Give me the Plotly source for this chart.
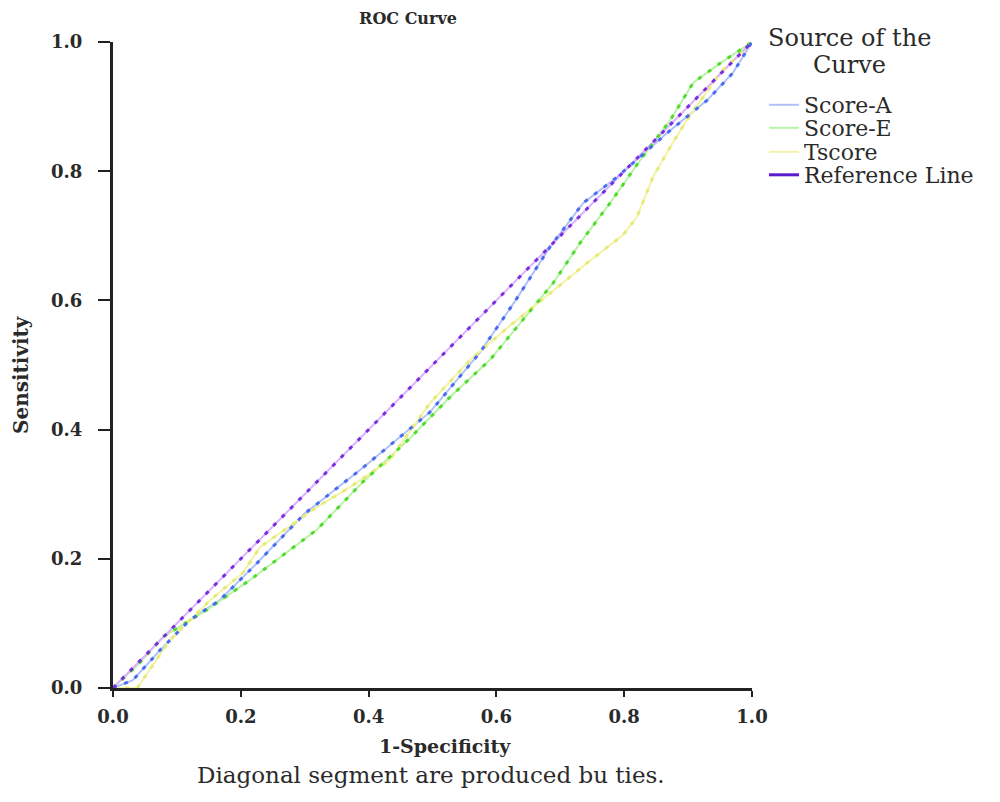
import plotly.graph_objects as go

# 1-Specificity (x) and Sensitivity (y) for each source
score_a_x = [0, 0.031, 0.074, 0.12, 0.167, 0.225, 0.30, 0.391, 0.496, 0.574, 0.63, 0.684, 0.736, 0.789, 0.867, 0.93, 0.97, 1.0]
score_a_y = [0, 0.012, 0.059, 0.105, 0.136, 0.193, 0.27, 0.341, 0.427, 0.519, 0.60, 0.683, 0.751, 0.791, 0.859, 0.91, 0.952, 1.0]

score_e_x = [0, 0.042, 0.078, 0.147, 0.214, 0.319, 0.391, 0.465, 0.527, 0.59, 0.689, 0.731, 0.778, 0.825, 0.872, 0.908, 0.95, 1.0]
score_e_y = [0, 0.039, 0.079, 0.121, 0.167, 0.245, 0.319, 0.387, 0.45, 0.508, 0.627, 0.689, 0.751, 0.817, 0.879, 0.937, 0.967, 1.0]

tscore_x = [0, 0.038, 0.089, 0.152, 0.203, 0.23, 0.319, 0.371, 0.433, 0.496, 0.559, 0.62, 0.684, 0.742, 0.798, 0.82, 0.845, 0.876, 0.898, 0.95, 1.0]
tscore_y = [0, 0.0, 0.074, 0.136, 0.178, 0.218, 0.28, 0.311, 0.353, 0.441, 0.508, 0.56, 0.611, 0.658, 0.701, 0.729, 0.791, 0.844, 0.879, 0.952, 1.0]

ref_x = [0, 1]
ref_y = [0, 1]

tick_vals = [0.0, 0.2, 0.4, 0.6, 0.8, 1.0]
tick_text = ["0.0", "0.2", "0.4", "0.6", "0.8", "1.0"]

FONT = "DejaVu Serif"
TXT = "#2a2a2a"
DOT = "4px,8px"

# The page body has an 8px margin: figure coords = screen coords - 8.
OFF = 8
PX0, PX1 = 113 - OFF, 752 - OFF      # plot area (figure px)
PY0, PY1 = 42 - OFF, 688 - OFF
PW, PH = PX1 - PX0, PY1 - PY0


def px(sx):   # screen x -> paper x
    return (sx - OFF - PX0) / PW


def py(sy):   # screen y -> paper y
    return (PY1 - (sy - OFF)) / PH


series = [
    # name, x, y, legend/underlay colour, dotted colour, legend id, screen y of legend item
    ("Score-A", score_a_x, score_a_y, "#aec2f7", "#4a6cf0", "legend", 105),
    ("Score-E", score_e_x, score_e_y, "#b9f2a6", "#4fdc2c", "legend2", 128),
    ("Tscore", tscore_x, tscore_y, "#f3f3a8", "#e6ea78", "legend3", 152),
]

fig = go.Figure()
# faint solid underlays (carry the legend entries, drawn as solid swatches)
for name, xs, ys, light, dark, lg, _ in series:
    fig.add_trace(go.Scatter(x=xs, y=ys, mode="lines", name=name, legend=lg,
                             line=dict(color=light, width=2)))
fig.add_trace(go.Scatter(x=ref_x, y=ref_y, mode="lines", line=dict(color="#dcb2ff", width=2),
                         showlegend=False, hoverinfo="skip"))
# legend swatch for the reference line (solid dark purple)
fig.add_trace(go.Scatter(x=[None], y=[None], mode="lines", name="Reference Line", legend="legend4",
                         line=dict(color="#5a1ad0", width=3)))

# dotted curves on top
for name, xs, ys, light, dark, lg, _ in reversed(series):
    fig.add_trace(go.Scatter(x=xs, y=ys, mode="lines", showlegend=False,
                             line=dict(color=dark, width=3, dash=DOT)))
fig.add_trace(go.Scatter(x=ref_x, y=ref_y, mode="lines", showlegend=False,
                         line=dict(color="#7a2ee0", width=3, dash=DOT)))

axis_common = dict(
    range=[0, 1], tickvals=tick_vals, ticktext=tick_text,
    showline=True, linecolor="#222222", linewidth=3,
    ticks="outside", tickwidth=2, tickcolor="#222222",
    showgrid=False, zeroline=False, automargin=False,
    tickfont=dict(family=FONT, size=18, color=TXT, weight="bold"),
)

fig.update_xaxes(**axis_common, ticklen=6, ticklabelstandoff=4)
fig.update_yaxes(**axis_common, ticklen=12, ticklabelstandoff=12)

legend_style = dict(xanchor="left", yanchor="middle", font=dict(family=FONT, size=22, color=TXT),
                    bgcolor="rgba(0,0,0,0)", itemwidth=30, borderwidth=0)
legend_x = px(764)
legend_ys = [s[6] for s in series] + [175]

fig.update_layout(
    width=1000, height=802,
    margin=dict(l=PX0, r=1000 - PX1, t=PY0, b=802 - PY1),
    paper_bgcolor="white", plot_bgcolor="white",
    title=dict(text="<b>ROC Curve</b>", x=(408 - OFF) / 1000, xanchor="center",
               y=1 - (18 - OFF) / 802, yanchor="middle", pad=dict(t=0, b=0, l=0, r=0),
               font=dict(family=FONT, size=16, color=TXT)),
    legend=dict(x=legend_x, y=py(legend_ys[0]), **legend_style),
    legend2=dict(x=legend_x, y=py(legend_ys[1]), **legend_style),
    legend3=dict(x=legend_x, y=py(legend_ys[2]), **legend_style),
    legend4=dict(x=legend_x, y=py(legend_ys[3]), **legend_style),
    showlegend=True,
)

# legend title (two centred lines)
fig.add_annotation(text="Source of the", xref="paper", yref="paper", x=px(849), y=py(38),
                   xanchor="center", yanchor="middle", showarrow=False,
                   font=dict(family=FONT, size=24, color=TXT))
fig.add_annotation(text="Curve", xref="paper", yref="paper", x=px(849), y=py(65),
                   xanchor="center", yanchor="middle", showarrow=False,
                   font=dict(family=FONT, size=24, color=TXT))
# axis titles
fig.add_annotation(text="<b>1-Specificity</b>", xref="paper", yref="paper",
                   x=px(445), y=py(746), xanchor="center", yanchor="middle", showarrow=False,
                   font=dict(family=FONT, size=19, color=TXT))
fig.add_annotation(text="<b>Sensitivity</b>", xref="paper", yref="paper",
                   x=px(21), y=py(375), xanchor="center", yanchor="middle", showarrow=False,
                   textangle=-90, font=dict(family=FONT, size=20, color=TXT))
# footnote
fig.add_annotation(text="Diagonal segment are produced bu ties.", xref="paper", yref="paper",
                   x=px(431), y=py(775), xanchor="center", yanchor="middle", showarrow=False,
                   font=dict(family=FONT, size=23, color=TXT))

fig.write_html("out.html")
